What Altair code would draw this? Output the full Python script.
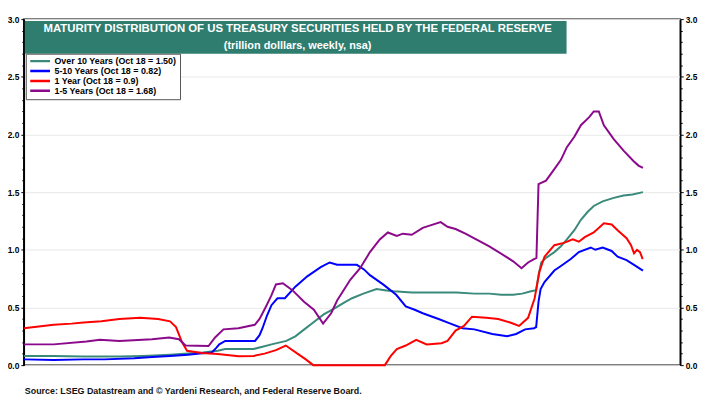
import altair as alt
import pandas as pd

# ---------------- data ----------------
series_names = [
    "Over 10 Years (Oct 18 = 1.50)",
    "5-10 Years (Oct 18 = 0.82)",
    "1 Year (Oct 18 = 0.9)",
    "1-5 Years (Oct 18 = 1.68)",
]
series_colors = ["#3a8a7b", "#0000ff", "#ff0000", "#8b0a8b"]

over10_x = [2003.0, 2004.0, 2005.0, 2006.2, 2007.0, 2007.9, 2008.5, 2009.0, 2009.5, 2009.75,
            2010.2, 2010.7, 2011.0, 2011.3, 2011.8, 2012.1, 2012.4, 2012.7, 2013.05, 2013.4,
            2013.72, 2014.0, 2014.38, 2014.82, 2015.1, 2015.4, 2016.0, 2016.5, 2017.0, 2017.5,
            2018.1, 2018.6, 2019.0, 2019.4, 2019.7, 2020.0, 2020.17, 2020.25, 2020.34, 2020.5,
            2020.78, 2021.0, 2021.2, 2021.45, 2021.67, 2021.9, 2022.1, 2022.4, 2022.77, 2023.1,
            2023.4, 2023.75]
over10_y = [0.08, 0.08, 0.075, 0.075, 0.08, 0.09, 0.10, 0.11, 0.125, 0.14,
            0.14, 0.14, 0.16, 0.18, 0.21, 0.25, 0.31, 0.37, 0.44, 0.49,
            0.54, 0.58, 0.62, 0.66, 0.65, 0.64, 0.63, 0.63, 0.63, 0.63,
            0.62, 0.62, 0.61, 0.61, 0.62, 0.64, 0.65, 0.78, 0.89, 0.93,
            0.98, 1.03, 1.09, 1.17, 1.26, 1.33, 1.38, 1.42, 1.45, 1.47,
            1.48, 1.50]

y510_x = [2003.0, 2004.0, 2005.0, 2005.7, 2006.7, 2007.3, 2007.9, 2008.5, 2008.9, 2009.3,
          2009.45, 2009.55, 2009.75, 2010.2, 2010.75, 2010.9, 2011.0, 2011.15, 2011.3, 2011.5,
          2011.75, 2012.1, 2012.5, 2012.95, 2013.25, 2013.5, 2013.72, 2014.16, 2014.4, 2014.6,
          2015.04, 2015.48, 2015.8, 2016.1, 2016.37, 2016.9, 2017.3, 2017.7, 2018.1, 2018.7,
          2019.2, 2019.5, 2019.8, 2020.1, 2020.17, 2020.25, 2020.32, 2020.45, 2020.78, 2021.0,
          2021.33, 2021.6, 2022.0, 2022.15, 2022.4, 2022.7, 2022.9, 2023.2, 2023.45, 2023.75]
y510_y = [0.05, 0.045, 0.05, 0.05, 0.06, 0.07, 0.08, 0.09, 0.10, 0.11,
          0.15, 0.18, 0.21, 0.21, 0.21, 0.26, 0.32, 0.43, 0.52, 0.58,
          0.58, 0.68, 0.77, 0.85, 0.89, 0.87, 0.87, 0.87, 0.83, 0.78,
          0.70, 0.61, 0.51, 0.48, 0.45, 0.40, 0.36, 0.32, 0.31, 0.27,
          0.25, 0.27, 0.31, 0.32, 0.33, 0.55, 0.66, 0.72, 0.82, 0.86,
          0.92, 0.98, 1.02, 1.00, 1.02, 0.99, 0.94, 0.91, 0.87, 0.82]

y1_x = [2003.0, 2004.0, 2004.6, 2005.0, 2005.6, 2006.2, 2006.9, 2007.5, 2007.9, 2008.1,
        2008.3, 2008.47, 2008.97, 2009.5, 2010.2, 2010.7, 2011.07, 2011.45, 2011.78, 2012.17,
        2012.45, 2012.7, 2015.1, 2015.3, 2015.5, 2015.8, 2016.15, 2016.5, 2017.0, 2017.2,
        2017.47, 2017.75, 2018.02, 2018.5, 2018.9, 2019.3, 2019.6, 2019.9, 2020.12, 2020.28,
        2020.45, 2020.78, 2021.1, 2021.4, 2021.6, 2021.8, 2022.1, 2022.44, 2022.7, 2022.9,
        2023.2, 2023.35, 2023.45, 2023.55, 2023.65, 2023.74]
y1_y = [0.32, 0.35, 0.36, 0.37, 0.38, 0.40, 0.41, 0.40, 0.38, 0.33,
        0.20, 0.125, 0.105, 0.097, 0.077, 0.08, 0.10, 0.13, 0.17, 0.10,
        0.05, 0.0, 0.0, 0.08, 0.14, 0.17, 0.22, 0.18, 0.19, 0.21,
        0.30, 0.34, 0.42, 0.41, 0.40, 0.37, 0.34, 0.41, 0.58, 0.81,
        0.94, 1.04, 1.06, 1.09, 1.07, 1.11, 1.15, 1.23, 1.22, 1.17,
        1.10, 1.04, 0.97, 1.00, 0.98, 0.92]

y15_x = [2003.0, 2004.0, 2005.1, 2005.55, 2006.2, 2007.3, 2007.87, 2008.2, 2008.42, 2009.19,
         2009.41, 2009.69, 2010.19, 2010.74, 2010.9, 2011.1, 2011.29, 2011.45, 2011.68, 2012.0,
         2012.39, 2012.72, 2013.03, 2013.3, 2013.5, 2013.94, 2014.27, 2014.6, 2014.93, 2015.2,
         2015.5, 2015.7, 2016.0, 2016.37, 2016.6, 2016.97, 2017.2, 2017.47, 2017.8, 2018.24,
         2018.6, 2019.1, 2019.4, 2019.68, 2019.9, 2020.1, 2020.18, 2020.25, 2020.5, 2020.78,
         2021.0, 2021.2, 2021.45, 2021.67, 2021.95, 2022.1, 2022.27, 2022.44, 2022.77, 2023.1,
         2023.43, 2023.6, 2023.75]
y15_y = [0.18, 0.18, 0.205, 0.22, 0.21, 0.225, 0.24, 0.225, 0.17, 0.165,
         0.24, 0.31, 0.32, 0.35, 0.40, 0.50, 0.60, 0.70, 0.71, 0.65,
         0.55, 0.48, 0.36, 0.45, 0.56, 0.74, 0.84, 0.98, 1.09, 1.15,
         1.12, 1.14, 1.13, 1.19, 1.21, 1.24, 1.20, 1.18, 1.14, 1.08,
         1.03, 0.95, 0.90, 0.84, 0.89, 0.92, 0.93, 1.57, 1.60, 1.70,
         1.78, 1.89, 1.98, 2.08, 2.15, 2.20, 2.20, 2.08, 1.96, 1.86,
         1.77, 1.73, 1.71]

y_ticks = [round(i * 0.1, 1) for i in range(31)]
x_ticks = list(range(2003, 2026))

title_text = "MATURITY DISTRIBUTION OF US TREASURY SECURITIES HELD BY THE FEDERAL RESERVE"
subtitle_text = "(trillion dolllars, weekly, nsa)"
source_text = "Source: LSEG Datastream and \u00a9 Yardeni Research, and Federal Reserve Board."

# ---------------- build table ----------------
rows = []
for name, xs, ys in zip(series_names,
                        [over10_x, y510_x, y1_x, y15_x],
                        [over10_y, y510_y, y1_y, y15_y]):
    for i, (a, b) in enumerate(zip(xs, ys)):
        rows.append({"year": a, "value": b, "series": name, "order": i})
df = pd.DataFrame(rows)

FONT = "Liberation Sans"
W, H = 664, 350

major_y = "abs(datum.value*2 - round(datum.value*2)) < 0.001"
even_x = "datum.value % 2 == 0"

x_enc = alt.X("year:Q",
              scale=alt.Scale(domain=[2003, 2025], nice=False, zero=False),
              axis=alt.Axis(values=x_ticks, title=None, format="d",
                            labelExpr=f"{even_x} ? datum.label : ''",
                            labelFlush=False, labelOverlap=False, labelPadding=3,
                            gridOpacity={"condition": {"test": even_x, "value": 1}, "value": 0},
                            tickSize={"condition": {"test": even_x, "value": 4}, "value": 2}))

def y_axis(orient):
    return alt.Axis(orient=orient, values=y_ticks, title=None,
                    labelExpr=f"{major_y} ? format(datum.value, '.1f') : ''",
                    labelOverlap=False,
                    grid=(orient == "left"),
                    gridOpacity={"condition": {"test": major_y, "value": 1}, "value": 0},
                    tickSize={"condition": {"test": major_y, "value": 3}, "value": 2})

y_scale = alt.Scale(domain=[0, 3], nice=False)

lines = alt.Chart(df).mark_line(strokeWidth=2, interpolate="linear").encode(
    x=x_enc,
    y=alt.Y("value:Q", scale=y_scale, axis=y_axis("left")),
    order="order:Q",
    color=alt.Color("series:N",
                    scale=alt.Scale(domain=series_names, range=series_colors),
                    sort=series_names,
                    legend=alt.Legend(title=None, orient="none", legendX=2, legendY=35,
                                      direction="vertical",
                                      symbolType="M-1,0H3", symbolStrokeWidth=2.5,
                                      symbolSize=100, labelOffset=13,
                                      clipHeight=9, labelLimit=200,
                                      labelFont=FONT, labelFontWeight="bold",
                                      labelFontSize=9, labelColor="black",
                                      rowPadding=0, padding=3,
                                      strokeColor="#555555", fillColor="white")),
)

right = alt.Chart(df).mark_line(opacity=0).encode(
    x=alt.X("year:Q", scale=alt.Scale(domain=[2003, 2025], nice=False, zero=False), axis=None),
    y=alt.Y("value:Q", scale=y_scale, axis=y_axis("right")),
    detail="series:N",
)

one = alt.Data(values=[{"k": 1}])

title_box = alt.Chart(one).mark_rect(color="#2e7d6f").encode(
    x=alt.value(1), x2=alt.value(549), y=alt.value(2), y2=alt.value(35)
)
title1 = alt.Chart(one).mark_text(font=FONT, fontWeight="bold", fontSize=11.5,
                                  color="white", align="center", baseline="middle").encode(
    x=alt.value(277), y=alt.value(10), text=alt.value(title_text)
)
title2 = alt.Chart(one).mark_text(font=FONT, fontWeight="bold", fontSize=11,
                                  color="white", align="center", baseline="middle").encode(
    x=alt.value(277), y=alt.value(27), text=alt.value(subtitle_text)
)
source = alt.Chart(one).mark_text(font=FONT, fontWeight="bold", fontSize=9,
                                  color="#111111", align="left", baseline="middle").encode(
    x=alt.value(1), y=alt.value(376), text=alt.value(source_text)
)

chart = alt.layer(lines, right, title_box, title1, title2, source).resolve_axis(
    y="independent"
).properties(
    width=W, height=H,
    autosize=alt.AutoSizeParams(type="none"),
    padding={"left": 16, "top": 9, "right": 23, "bottom": 32},
    background="white",
).configure_view(
    stroke="black", strokeWidth=1.5
).configure_axis(
    labelFont=FONT, labelFontWeight="bold", labelFontSize=8.5, labelColor="black",
    domainColor="black", domainWidth=1.5, tickColor="black", tickWidth=1,
    gridColor="#e8e8e8", gridWidth=1, labelPadding=2,
)

chart.save("out.html", embed_options={"renderer": "svg", "actions": False})
